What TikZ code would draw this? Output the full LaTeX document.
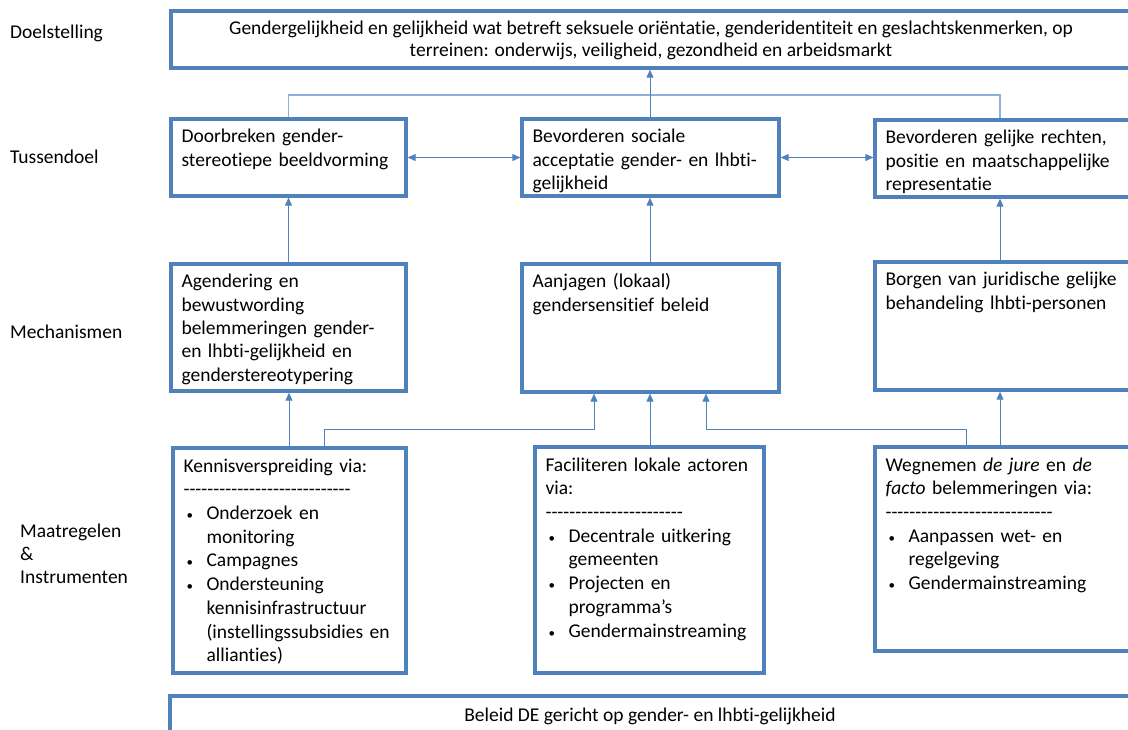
\documentclass[tikz,border=0pt]{standalone}
\usepackage{fontspec}
\setmainfont{Carlito}[Ligatures={NoCommon}]
\usetikzlibrary{arrows.meta}
\definecolor{boxblue}{RGB}{79,129,189}
\definecolor{lineblue}{RGB}{79,129,189}
\definecolor{lightblue}{RGB}{142,176,216}
\newcommand\dashrow[1]{\count255=0 \loop\ifnum\count255<#1 \mbox{-}\advance\count255 by 1 \repeat}
\newcommand\bul{\makebox[23pt][l]{\hspace{3pt}{\fontsize{13}{13}\selectfont•}}}
\newcommand\ind{\hspace*{23pt}}
\newcommand\boxnode[7][9]{%
  \node[bx, minimum width={#5-#3}, minimum height={#6-#4}] (#2) at ({(#3+#5)/2},{(#4+#6)/2}) {};
  \node[txt, text width={#5-#3-14}] (#2-t) at ([xshift=12pt, yshift=-#1pt]#2.north west) {\strut #7};
}
\begin{document}
\begin{tikzpicture}[x=1pt,y=-1pt,
  every node/.style={font=\fontsize{19.5}{23.3}\selectfont},
  bx/.style={draw=boxblue, line width=3.3pt, fill=white, inner sep=0pt},
  txt/.style={anchor=north west, inner sep=0pt, align=left},
  lbl/.style={anchor=west, inner sep=0pt, align=left},
  arow/.style={font=\fontsize{19.5}{23.7}\selectfont},
  arr/.style={draw=lineblue, line width=0.9pt, -{Triangle[width=7pt,length=8pt]}},
  darr/.style={draw=lineblue, line width=0.9pt, {Triangle[width=7pt,length=8pt]}-{Triangle[width=7pt,length=8pt]}},
  lightline/.style={draw=lightblue, line width=1.5pt}]
\useasboundingbox (0,0) rectangle (1128,729);
% left labels
\node[lbl] (l1) at (10,33) {Doelstelling};
\node[lbl] (l2) at (10,157) {Tussendoel};
\node[lbl] (l3) at (10,332) {Mechanismen};
\node[lbl, anchor=north west, font=\fontsize{19.5}{23}\selectfont] (l4) at (20,521) {\strut Maatregelen\\\&\\Instrumenten};
% top box
\node[bx, minimum width=970, minimum height=57] (top) at ({(171+1141)/2},{(11+68)/2}) {};
\node[anchor=north, inner sep=0pt, align=center, font=\fontsize{19.5}{22}\selectfont] (top-t) at ([yshift=-10pt]top.north -| 651,0) {\strut Gendergelijkheid en gelijkheid wat betreft seksuele oriëntatie, genderidentiteit en geslachtskenmerken, op\\terreinen: onderwijs, veiligheid, gezondheid en arbeidsmarkt};
% tussendoel
\boxnode{t1}{171}{119}{406}{196}{Doorbreken gender-\\stereotiepe beeldvorming}
\boxnode{t2}{522}{119}{779}{196}{Bevorderen sociale\\acceptatie gender- en lhbti-\\gelijkheid}
\boxnode{t3}{875}{120}{1141}{197}{Bevorderen gelijke rechten,\\positie en maatschappelijke\\representatie}
% mechanismen
\boxnode{m1}{171}{264}{406}{391}{Agendering en\\bewustwording\\belemmeringen gender-\\en lhbti-gelijkheid en\\genderstereotypering}
\boxnode{m2}{522}{264}{779}{392}{Aanjagen (lokaal)\\gendersensitief beleid}
\boxnode{m3}{875}{262}{1141}{390}{Borgen van juridische gelijke\\behandeling lhbti-personen}
% maatregelen
\tikzset{txt/.append style={arow}}
\boxnode{a1}{173}{448}{406}{673}{Kennisverspreiding via:\\\dashrow{28}\\\bul Onderzoek en\\\ind monitoring\\\bul Campagnes\\\bul Ondersteuning\\\ind kennisinfrastructuur\\\ind (instellingssubsidies en\\\ind allianties)}
\boxnode{a2}{535}{447}{764}{673}{Faciliteren lokale actoren\\via:\\\dashrow{23}\\\bul Decentrale uitkering\\\ind gemeenten\\\bul Projecten en\\\ind programma’s\\\bul Gendermainstreaming}
\boxnode{a3}{875}{447}{1141}{651}{Wegnemen \textit{de jure} en \textit{de}\\\textit{facto} belemmeringen via:\\\dashrow{28}\\\bul Aanpassen wet- en\\\ind regelgeving\\\bul Gendermainstreaming}
% bottom box
\node[bx, minimum width=971, minimum height=50] (bot) at ({(170+1141)/2},{(696+746)/2}) {};
\node[inner sep=0pt] (bot-t) at (650,716) {Beleid DE gericht op gender- en lhbti-gelijkheid};
% connectors
\coordinate (c1) at (288.5,95);
\coordinate (c3) at (1000,95);
\draw[lightline] (t1.north) -- (c1) -- (c3) -- (t3.north -| c3);
\draw[arr] (t2.north -| 650,0) -- (top.south -| 650,0);
\draw[darr] (t1.east) -- (t2.west);
\draw[darr] (t2.east) -- (t3.west |- t2.east);
\draw[arr] (m1.north) -- (t1.south);
\draw[arr] (m2.north -| 650,0) -- (t2.south -| 650,0);
\draw[arr] (m3.north -| c3) -- (t3.south -| c3);
\draw[arr] (a1.north -| 289,0) -- (m1.south -| 289,0);
\draw[arr] (a2.north -| 650,0) -- (m2.south -| 650,0);
\draw[arr] (a3.north -| c3) -- (m3.south -| c3);
\coordinate (k1) at (324,429);
\coordinate (k2) at (594,429);
\coordinate (k3) at (966,429);
\coordinate (k4) at (706,429);
\draw[arr] (a1.north -| k1) -- (k1) -- (k2) -- (m2.south -| k2);
\draw[arr] (a3.north -| k3) -- (k3) -- (k4) -- (m2.south -| k4);
\end{tikzpicture}
\end{document}
